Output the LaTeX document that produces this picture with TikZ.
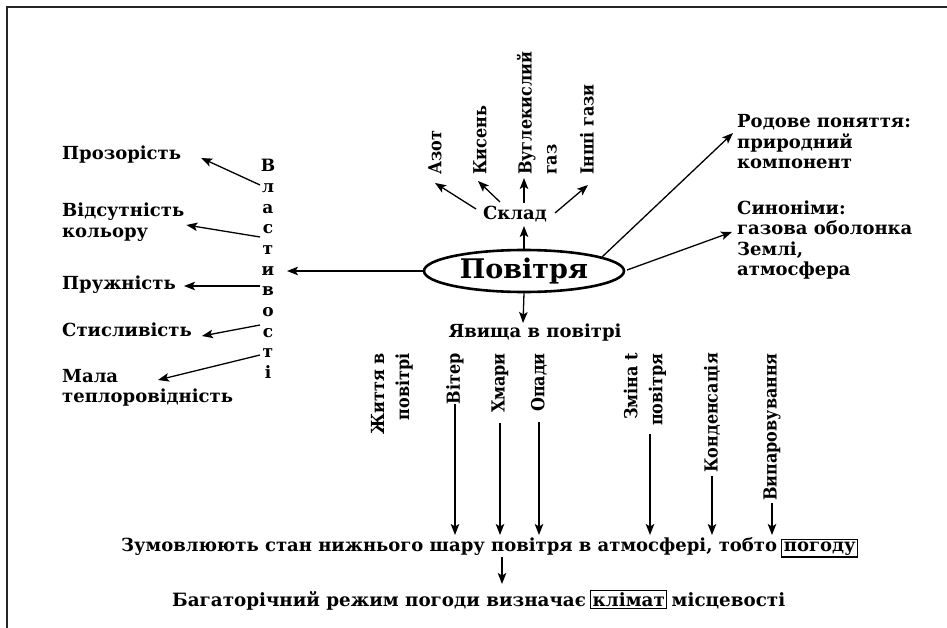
\documentclass[tikz,border=0pt]{standalone}
\usepackage{fontspec}
\setmainfont{DejaVu Serif}
\usetikzlibrary{arrows.meta,calc,shapes.geometric}
\begin{document}
\begin{tikzpicture}[x=1pt,y=-1pt,
  txt/.style={font=\fontsize{18}{20.5}\selectfont\bfseries, inner sep=0pt, align=left},
  vtxt/.style={inner sep=0pt, rotate=90, xscale=0.89, align=left, font=\fontsize{18}{25}\selectfont\bfseries},
  arr/.style={line width=1.3pt, -{Stealth[length=11pt,width=8.5pt,inset=2.5pt]}},
  boxed/.style={txt, draw, line width=1.2pt, inner xsep=2pt, inner ysep=2pt}]
\useasboundingbox (0,0) rectangle (947,628);
% frame
\draw[line width=1.6pt, black!85] (947,7) -- (7,7) -- (7,628);

% central concept
\node[draw, ellipse, line width=2.6pt, minimum width=200pt, minimum height=42pt,
      inner sep=0pt, font=\fontsize{27}{30}\selectfont\bfseries] (air) at (524,271) {Повітря};

% composition
\node[txt] (sklad) at (515,214) {Склад};
\node[vtxt, anchor=west] (azot) at (435,175) {Азот};
\node[vtxt, anchor=west] (kysen) at (480,175) {Кисень};
\node[vtxt, anchor=west] (vugl) at (537,175) {Вуглекислий\\газ};
\node[vtxt, anchor=west] (inshi) at (587,175) {Інші гази};
\draw[arr] (air.north) -- ($(sklad.center)+(9,12)$);
\draw[arr] ($(sklad.center)+(-39,-5)$) -- ($(azot.west)+(0,8)$);
\draw[arr] ($(sklad.center)+(-15,-12)$) -- ($(kysen.west)+(-2,6)$);
\draw[arr] ($(sklad.center)+(9,-11)$) -- ($(vugl.west)+(-13,3)$);
\draw[arr] ($(sklad.center)+(40,-1)$) -- ($(inshi.west)+(1,10)$);

% properties
\node[txt, align=center, font=\fontsize{17}{20.7}\selectfont\bfseries] (vl) at (268,269)
  {В\\л\\а\\с\\т\\и\\в\\о\\с\\т\\і};
\draw[arr] (air.west) -- ($(vl.center)+(19,2)$);
\node[txt, anchor=west] (proz) at (62,155) {Прозорість};
\node[txt, anchor=west] (vids) at (62,222) {Відсутність\\кольору};
\node[txt, anchor=west] (pruzh) at (62,285) {Пружність};
\node[txt, anchor=west] (stys) at (62,330) {Стисливість};
\node[txt, anchor=west] (mala) at (62,388) {Мала\\теплоровідність};
\draw[arr] ($(vl.center)+(-8,-84)$) -- ($(proz.east)+(20,3)$);
\draw[arr] ($(vl.center)+(-8,-32)$) -- ($(vids.east)+(2,3)$);
\draw[arr] ($(vl.center)+(-8,17)$) -- ($(pruzh.east)+(8,1)$);
\draw[arr] ($(vl.center)+(-8,56)$) -- ($(stys.east)+(10,6)$);
\draw[arr] ($(vl.center)+(-8,86)$) -- ($(mala.west)+(96,-8)$);

% generic concept and synonyms
\node[txt, anchor=west] (rod) at (737,142) {Родове поняття:\\природний\\компонент};
\node[txt, anchor=west] (syn) at (737,240) {Синоніми:\\газова оболонка\\Землі,\\атмосфера};
\draw[arr] ($(air.center)+(78,-14)$) -- ($(rod.west)+(-4,-9)$);
\draw[arr] ($(air.center)+(103,-1)$) -- ($(syn.west)+(-5,-8)$);

% phenomena
\node[txt] (yav) at (535,333) {Явища в повітрі};
\draw[arr] (air.south) -- ($(yav.center)+(-12,-10)$);
\node[vtxt, anchor=east, align=right] (zhyt) at (392,353) {Життя в\\повітрі};
\node[vtxt, anchor=east] (viter) at (455,353) {Вітер};
\node[vtxt, anchor=east] (khm) at (500,353) {Хмари};
\node[vtxt, anchor=east] (opad) at (539,353) {Опади};
\node[vtxt, anchor=east, align=right] (zmina) at (645,353) {Зміна t\\повітря};
\node[vtxt, anchor=east] (kond) at (712,353) {Конденсація};
\node[vtxt, anchor=east] (vyp) at (772,353) {Випаровування};

% weather and climate
\node[txt, anchor=base west] (l1) at (121,551) {Зумовлюють стан нижнього шару повітря в атмосфері, тобто};
\node[boxed, anchor=base west] (pog) at ($(l1.base east)+(4,0)$) {погоду};
\node[txt, anchor=base west, font=\fontsize{18.3}{20.5}\selectfont\bfseries] (l2a) at (172,606) {Багаторічний режим погоди визначає};
\node[boxed, anchor=base west, font=\fontsize{18.3}{20.5}\selectfont\bfseries] (klim) at ($(l2a.base east)+(4,0)$) {клімат};
\node[txt, anchor=base west, font=\fontsize{18.3}{20.5}\selectfont\bfseries] (l2b) at ($(klim.base east)+(4,0)$) {місцевості};

\draw[arr] (viter.west) -- ($(viter.west |- l1.base)+(0,-16)$);
\draw[arr, shorten <=10pt] (khm.west) -- ($(khm.west |- l1.base)+(0,-16)$);
\draw[arr, shorten <=10pt] (opad.west) -- ($(opad.west |- l1.base)+(0,-16)$);
\draw[arr, shorten <=8pt] ($(zmina.west)+(5,0)$) -- ($(zmina.west |- l1.base)+(5,-16)$);
\draw[arr, shorten <=3pt] (kond.west) -- ($(kond.west |- l1.base)+(0,-16)$);
\draw[arr, shorten <=2pt] (vyp.west) -- ($(vyp.west |- l1.base)+(0,-16)$);
\draw[arr] ($(l1.base west)+(381,6)$) -- ($(l2a.base west)+(330,-22)$);
\end{tikzpicture}
\end{document}
